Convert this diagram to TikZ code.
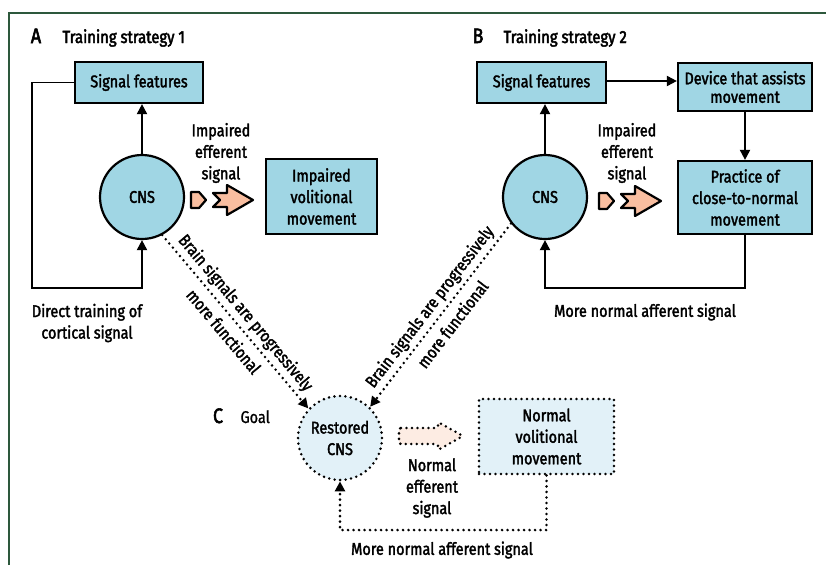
\documentclass[tikz,border=0pt]{standalone}
\usepackage{fontspec}
\setmainfont{Fira Sans}[FakeStretch=0.85, FakeBold=2]
\newfontfamily\titlefont{Fira Sans}[FakeStretch=0.85, FakeBold=2.6]
\newfontfamily\lightfont{Fira Sans}[FakeStretch=0.85, FakeBold=1]
\usetikzlibrary{arrows.meta,calc}
\definecolor{boxblue}{RGB}{160,214,228}
\definecolor{peach}{RGB}{249,190,160}
\definecolor{paleblue}{RGB}{226,241,248}
\definecolor{palepeach}{RGB}{253,236,227}
\definecolor{framegreen}{RGB}{45,88,60}
\newcommand\fs{\fontsize{17}{21.5}\selectfont}
\begin{document}
\begin{tikzpicture}[x=1pt,y=-1pt,
  box/.style={draw=black, line width=2.2pt, fill=boxblue, align=center, font=\fs, inner sep=0pt},
  cns/.style={circle, draw=black, line width=2.2pt, fill=boxblue, align=center, font=\fs, inner sep=0pt, minimum size=84pt},
  dotbox/.style={draw=black, line width=2.8pt, dash pattern=on 0pt off 5.5pt, line cap=round, fill=paleblue, align=center, font=\fs, inner sep=0pt},
  conn/.style={draw=black, line width=1.9pt, -{Triangle[length=10pt,width=10pt]}},
  dotconn/.style={draw=black, line width=2.8pt, dash pattern=on 0pt off 5.5pt, line cap=round, -{Triangle[length=10pt,width=10pt]}},
  dotplain/.style={draw=black, line width=2.8pt, dash pattern=on 0pt off 5.5pt, line cap=round},
  lbl/.style={align=center, font=\fs, inner sep=0pt},
  fat/.style={draw=black, line width=2.2pt, fill=peach, line join=round},
  effarrow/.pic={
    \path[fat] (0,-8) -- (8,-8) -- (15,0) -- (8,8) -- (0,8) -- cycle;
    \path[fat] (22,-7) -- (36,-7) -- (36,-15) -- (62,0) -- (36,15) -- (36,7) -- (22,7) -- (29,0) -- cycle;
  }
]
\useasboundingbox (0,0) rectangle (826,565);
\fill[white] (0,0) rectangle (826,565);
% frame
\draw[framegreen, line width=2pt] (9,565) -- (9,13) -- (826,13);

% ---------- A ----------
\node[font=\titlefont\fontsize{21}{21}\selectfont, anchor=base] (tA) at (36,43) {A};
\node[font=\titlefont\fontsize{17.5}{17.5}\selectfont, anchor=base west] (ttA) at (59,43) {Training strategy 1};
\node[box, minimum width=128pt, minimum height=41pt] (sfA) at (139,82.5) {Signal features};
\node[cns] (cnsA) at (142,197) {CNS};
\node[box, minimum width=111pt, minimum height=75pt] (ivm) at (321.5,196.5) {Impaired\\volitional\\movement};
\node[lbl] (ieA) at (221,153) {Impaired\\efferent\\signal};
\pic at (191,200) {effarrow};
\draw[conn] (cnsA.north) -- (cnsA.north |- sfA.south);
\coordinate (loopA) at (32,288);
\draw[conn] (sfA.west) -| (loopA) -| (cnsA.south);
\node[lbl] (dtA) at (87,323) {Direct training of\\cortical signal};

% ---------- B ----------
\node[font=\titlefont\fontsize{21}{21}\selectfont, anchor=base] (tB) at (478,43) {B};
\node[font=\titlefont\fontsize{17.5}{17.5}\selectfont, anchor=base west] (ttB) at (500,43) {Training strategy 2};
\node[box, minimum width=129pt, minimum height=41pt] (sfB) at (541.5,82.5) {Signal features};
\node[box, minimum width=134pt, minimum height=48pt] (dev) at (745,87) {Device that assists\\[-3pt]movement};
\node[box, minimum width=134pt, minimum height=73pt] (prac) at (745,197.5) {Practice of\\close-to-normal\\movement};
\node[cns] (cnsB) at (545,197) {CNS};
\node[lbl] (ieB) at (627,153) {Impaired\\efferent\\signal};
\pic at (599,201) {effarrow};
\draw[conn] (cnsB.north) -- (cnsB.north |- sfB.south);
\draw[conn] (sfB.east |- 0,81) -- (dev.west |- 0,81);
\draw[conn] (dev.south) -- (prac.north);
\coordinate (loopB) at (745,288);
\draw[conn] (prac.south) -- (loopB) -| (cnsB.south);
\node[lbl] (maB) at (645,312) {More normal afferent signal};

% ---------- C ----------
\node[font=\titlefont\fontsize{21}{21}\selectfont, anchor=base] (tC) at (218,423) {C};
\node[font=\lightfont\fontsize{17}{17}\selectfont, anchor=base west] (ttC) at (237,423) {Goal};
\node[circle, dotbox, minimum size=84pt] (rest) at (340,438) {Restored\\CNS};
\node[dotbox, minimum width=135pt, minimum height=75pt] (nvm) at (546.5,436.5) {Normal\\volitional\\movement};
\path[dotplain, fill=palepeach, rounded corners=2pt] (399,428) -- (438,428) -- (438,422) -- (463,436) -- (438,450) -- (438,444) -- (399,444) -- cycle;
\node[lbl] (neC) at (432,488) {Normal\\efferent\\signal};
\coordinate (loopC) at (546.5,530);
\draw[dotconn] (nvm.south) -- (loopC) -| (rest.south);
\node[lbl] (maC) at (442,550) {More normal afferent signal};

% diagonals
\draw[dotconn] (cnsA.-62) -- node[lbl, sloped, pos=0.5] {Brain signals are progressively\\[8pt]more functional} (rest.137);
\draw[dotconn] (cnsB.218) -- node[lbl, sloped, pos=0.5] {Brain signals are progressively\\[8pt]more functional} (rest.46);
\end{tikzpicture}
\end{document}
